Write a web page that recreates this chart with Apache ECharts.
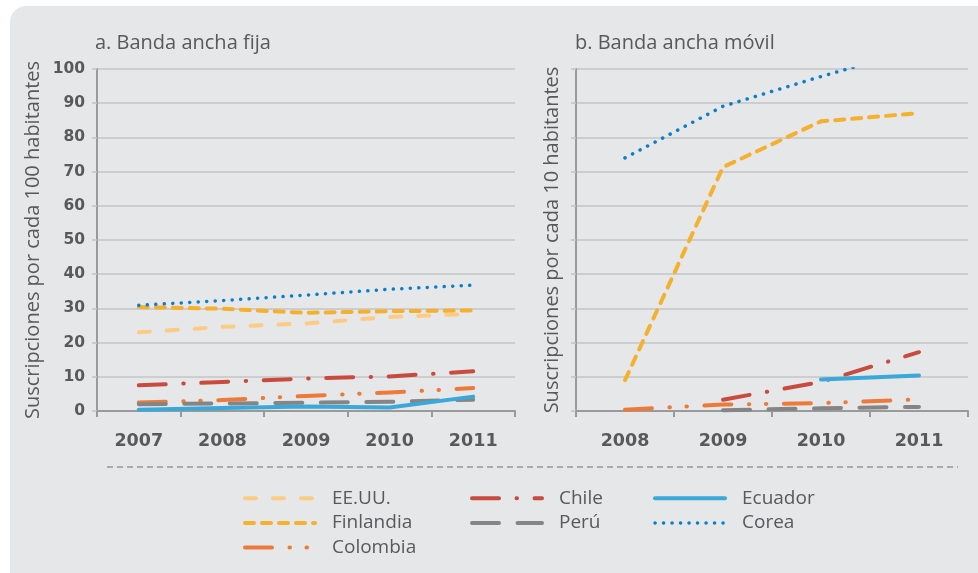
<!DOCTYPE html>
<html>
<head>
<meta charset="utf-8">
<script src="https://cdn.jsdelivr.net/npm/echarts@6/dist/echarts.min.js"></script>
<style>
  html, body { margin: 0; padding: 0; background: #ffffff; }
  .panel {
    position: absolute; left: 10px; top: 6px; width: 990px; height: 600px;
    background: #e6e7e8; border-radius: 16px;
  }
  #chart { position: absolute; left: 0; top: 0; width: 978px; height: 573px; }
</style>
</head>
<body>
<div class="panel"></div>
<div id="chart"></div>
<script>
// años de cada panel
const yearsFija = ['2007', '2008', '2009', '2010', '2011']
const yearsMovil = ['2008', '2009', '2010', '2011']

// a. Banda ancha fija (por cada 100 habitantes)
const fijaEEUU = [23.0, 24.6, 25.6, 27.5, 28.4]
const fijaFinlandia = [30.4, 29.9, 28.7, 29.2, 29.4]
const fijaColombia = [2.5, 3.2, 4.4, 5.4, 6.7]
const fijaChile = [7.5, 8.5, 9.5, 10.1, 11.6]
const fijaPeru = [2.0, 2.2, 2.4, 2.7, 3.3]
const fijaEcuador = [0.4, 0.9, 1.3, 1.0, 4.2]
const fijaCorea = [30.9, 32.3, 33.9, 35.6, 36.8]

// b. Banda ancha móvil (Corea sale del gráfico por arriba en 2011)
const movilEEUU = [null, null, null, null]
const movilFinlandia = [9.0, 71.3, 84.7, 87.1]
const movilColombia = [0.4, 1.9, 2.3, 3.4]
const movilChile = [null, 3.3, 8.5, 17.2]
const movilPeru = [null, 0.2, 0.8, 1.2]
const movilEcuador = [null, null, 9.2, 10.4]
const movilCorea = [74.0, 89.1, 97.8, 106]

const yTicks = [0, 10, 20, 30, 40, 50, 60, 70, 80, 90, 100]

const textColor = '#58595b'
const fontFamily = '"Open Sans", sans-serif'
const numFont = '"DejaVu Sans", sans-serif'

// estilo de línea de cada país
const paises = [
  { name: 'EE.UU.', color: '#fdcb84', width: 4, type: [11, 17], fija: fijaEEUU, movil: movilEEUU },
  { name: 'Finlandia', color: '#f5b02e', width: 4, type: [9, 8], fija: fijaFinlandia, movil: movilFinlandia },
  { name: 'Colombia', color: '#ec7b3a', width: 4, type: [27, 17.5, 0.5, 16.5, 0.5, 17.5], fija: fijaColombia, movil: movilColombia },
  { name: 'Chile', color: '#c84b3e', width: 4, type: [27, 17.5, 0.5, 17.5], fija: fijaChile, movil: movilChile },
  { name: 'Perú', color: '#858585', width: 4, type: [27, 18.5], fija: fijaPeru, movil: movilPeru },
  { name: 'Ecuador', color: '#3aa8d8', width: 4, type: 'solid', fija: fijaEcuador, movil: movilEcuador },
  { name: 'Corea', color: '#0a7ecb', width: 3.5, type: [0.1, 8.4], fija: fijaCorea, movil: movilCorea }
]

const chart = echarts.init(document.getElementById('chart'))

function makeSeries (p, idx, data) {
  return {
    name: p.name,
    type: 'line',
    xAxisIndex: idx,
    yAxisIndex: idx,
    data: data,
    symbol: 'none',
    showSymbol: false,
    connectNulls: false,
    clip: true,
    color: p.color,
    lineStyle: { color: p.color, width: p.width, type: p.type, cap: 'round', join: 'round' },
    emphasis: { disabled: true }
  }
}

const series = []
paises.forEach(p => {
  series.push(makeSeries(p, 0, p.fija))
  series.push(makeSeries(p, 1, p.movil))
})

function legendCol (left, top, names) {
  return {
    left: left,
    top: top,
    orient: 'vertical',
    padding: 0,
    itemWidth: 70,
    itemHeight: 14,
    itemGap: 0,
    height: 120,
    selectedMode: false,
    itemStyle: { opacity: 0 },
    textStyle: { color: textColor, fontSize: 19, fontFamily: fontFamily, padding: [0, 0, 0, 12], lineHeight: 24.6 },
    data: names.map(n => {
      const p = paises.find(q => q.name === n)
      return { name: n, lineStyle: { width: p.width, type: p.type, cap: 'round', opacity: 1 } }
    })
  }
}

const yAxisBase = {
  type: 'value',
  min: 0,
  max: 100,
  interval: 10,
  nameLocation: 'middle',
  nameTextStyle: { color: textColor, fontSize: 20, fontFamily: fontFamily },
  axisLine: { show: true, lineStyle: { color: '#9a9a9a', width: 2 } },
  axisTick: { show: true, length: 5, lineStyle: { color: '#c3c4c6', width: 1.5 } },
  splitLine: { show: true, lineStyle: { color: '#c3c4c6', width: 1.5 } }
}

const xAxisBase = {
  type: 'category',
  boundaryGap: true,
  axisLine: { show: true, lineStyle: { color: '#9a9a9a', width: 2 } },
  axisTick: { show: true, length: 6, inside: false, lineStyle: { color: '#9a9a9a', width: 2 } },
  axisLabel: { color: textColor, fontSize: 17.5, fontWeight: 'bold', fontFamily: numFont, margin: 21 },
  splitLine: { show: false }
}

chart.setOption({
  animation: false,
  textStyle: { fontFamily: fontFamily },
  title: [
    { text: 'a. Banda ancha fija', left: 95, top: 33, padding: 0, textStyle: { color: textColor, fontSize: 20, fontWeight: 'normal' } },
    { text: 'b. Banda ancha móvil', left: 575, top: 33, padding: 0, textStyle: { color: textColor, fontSize: 20, fontWeight: 'normal' } }
  ],
  grid: [
    { left: 97, top: 69, width: 418, height: 342 },
    { left: 576, top: 69, width: 392, height: 342 }
  ],
  xAxis: [
    Object.assign({}, xAxisBase, { gridIndex: 0, data: yearsFija }),
    Object.assign({}, xAxisBase, { gridIndex: 1, data: yearsMovil })
  ],
  yAxis: [
    Object.assign({}, yAxisBase, {
      gridIndex: 0,
      name: 'Suscripciones por cada 100 habitantes',
      nameGap: 54,
      axisLabel: {
        color: textColor, fontSize: 15.5, fontWeight: 'bold', fontFamily: numFont, margin: 12,
        customValues: yTicks
      }
    }),
    Object.assign({}, yAxisBase, {
      gridIndex: 1,
      name: 'Suscripciones por cada 10 habitantes',
      nameGap: 14,
      axisLabel: { show: false }
    })
  ],
  legend: [
    legendCol(243, 486, ['EE.UU.', 'Finlandia', 'Colombia']),
    legendCol(470, 486, ['Chile', 'Perú']),
    legendCol(653, 486, ['Ecuador', 'Corea'])
  ],
  graphic: [
    {
      type: 'line',
      shape: { x1: 107, y1: 467, x2: 958, y2: 467 },
      style: { stroke: '#6d6e71', lineWidth: 1, lineDash: [6, 4] },
      silent: true
    }
  ],
  series: series
})
</script>
</body>
</html>
